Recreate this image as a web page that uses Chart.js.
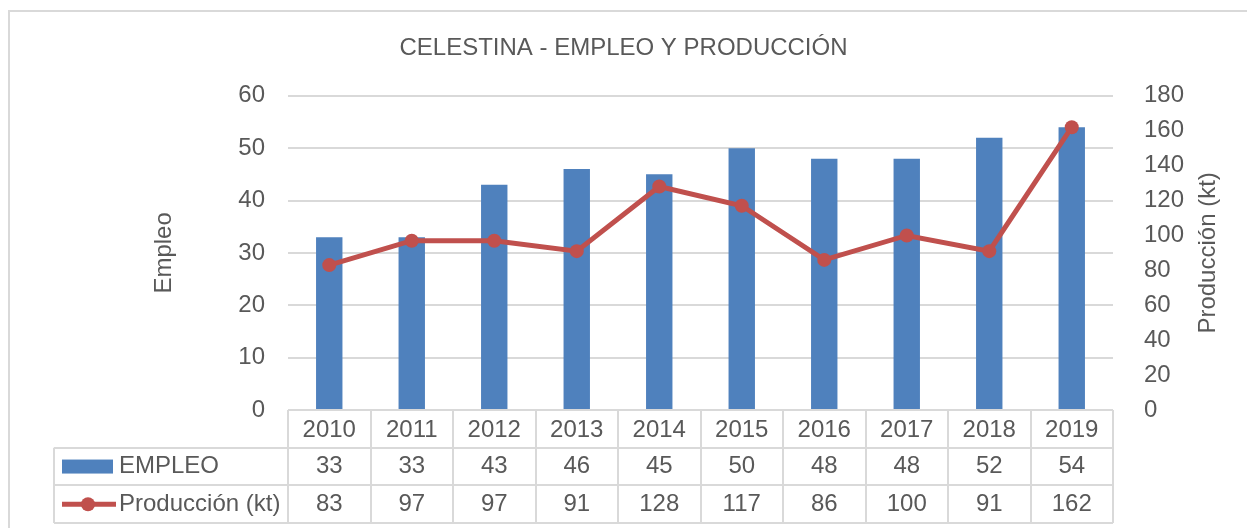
<!DOCTYPE html>
<html>
<head>
<meta charset="utf-8">
<script src="https://cdn.jsdelivr.net/npm/chart.js@4"></script>
<style>
  html, body { margin: 0; padding: 0; background: #fff; }
  canvas { display: block; }
</style>
</head>
<body>
<canvas id="chart" width="1247" height="528"></canvas>
<script>
const years = ['2010', '2011', '2012', '2013', '2014', '2015', '2016', '2017', '2018', '2019'];
const empleo = [33, 33, 43, 46, 45, 50, 48, 48, 52, 54];
const produccion = [83, 97, 97, 91, 128, 117, 86, 100, 91, 162];
const seriesNames = ['EMPLEO', 'Producción (kt)'];

const FONT = 'Liberation Sans, Arial, sans-serif';
const TEXT = '#595959';
const GRID = '#d9d9d9';
const BLUE = '#4F81BD';
const RED = '#C0504D';

Chart.defaults.font.family = FONT;
Chart.defaults.font.size = 24;
Chart.defaults.color = TEXT;

// draws the outer frame, the data table under the x axis and the right title
const tablePlugin = {
  id: 'dataTable',
  beforeDraw(chart) {
    const ctx = chart.ctx;
    ctx.save();
    ctx.strokeStyle = GRID;
    ctx.lineWidth = 2;
    ctx.strokeRect(9, 11, 1400, 700);
    ctx.restore();
  },
  afterDraw(chart) {
    const {ctx, chartArea: area, scales: {x}} = chart;
    const half = (x.getPixelForValue(1) - x.getPixelForValue(0)) / 2;
    const rowH = 37.7;
    const top = area.bottom;
    const tableLeft = 54;
    ctx.save();
    ctx.strokeStyle = GRID;
    ctx.lineWidth = 2;
    ctx.beginPath();
    // vertical lines at category edges
    for (let i = 0; i <= years.length; i++) {
      const px = Math.round(x.getPixelForValue(i) - half);
      ctx.moveTo(px, top);
      ctx.lineTo(px, top + rowH * 3);
    }
    ctx.moveTo(tableLeft, top + rowH);
    ctx.lineTo(tableLeft, top + rowH * 3);
    for (let r = 1; r <= 3; r++) {
      const py = Math.round(top + rowH * r);
      ctx.moveTo(tableLeft, py);
      ctx.lineTo(area.right, py);
    }
    ctx.moveTo(area.left, top);
    ctx.lineTo(area.right, top);
    ctx.stroke();

    // legend keys
    const r1 = top + rowH * 1.5;
    const r2 = top + rowH * 2.5;
    ctx.fillStyle = BLUE;
    ctx.fillRect(62, r1 - 7, 51, 14);
    ctx.strokeStyle = RED;
    ctx.lineWidth = 5;
    ctx.beginPath();
    ctx.moveTo(62, r2);
    ctx.lineTo(116, r2);
    ctx.stroke();
    ctx.fillStyle = RED;
    ctx.beginPath();
    ctx.arc(88, r2, 7, 0, Math.PI * 2);
    ctx.fill();

    ctx.font = '24px ' + FONT;
    ctx.fillStyle = TEXT;
    ctx.textBaseline = 'middle';
    ctx.textAlign = 'left';
    ctx.fillText(seriesNames[0], 119, r1);
    ctx.fillText(seriesNames[1], 119, r2);
    ctx.textAlign = 'center';
    years.forEach((y, i) => {
      const px = x.getPixelForValue(i);
      ctx.fillText(String(empleo[i]), px, r1);
      ctx.fillText(String(produccion[i]), px, r2);
    });

    // right axis title, reading bottom to top
    ctx.translate(1208, (area.top + area.bottom) / 2);
    ctx.rotate(-Math.PI / 2);
    ctx.fillText(seriesNames[1], 0, 0);
    ctx.restore();
  }
};

const config = {
  type: 'bar',
  data: {
    labels: years,
    datasets: [
      {
        label: seriesNames[1],
        type: 'line',
        data: produccion,
        yAxisID: 'y1',
        borderColor: RED,
        backgroundColor: RED,
        borderWidth: 5,
        pointRadius: 7,
        pointBackgroundColor: RED,
        pointBorderWidth: 0,
        tension: 0,
        order: 0
      },
      {
        label: seriesNames[0],
        data: empleo,
        yAxisID: 'y',
        backgroundColor: BLUE,
        categoryPercentage: 1,
        barPercentage: 0.32,
        order: 1
      }
    ]
  },
  options: {
    responsive: false,
    animation: false,
    devicePixelRatio: 1,
    layout: {padding: 0},
    plugins: {
      legend: {display: false},
      tooltip: {enabled: false},
      title: {
        display: true,
        text: 'CELESTINA - EMPLEO Y PRODUCCIÓN',
        color: TEXT,
        font: {size: 24, weight: 'normal'},
        padding: {top: 34, bottom: 33}
      }
    },
    scales: {
      x: {
        grid: {display: false},
        border: {display: false},
        ticks: {padding: -2, color: TEXT},
        afterFit: s => { s.height = 118; }
      },
      y: {
        position: 'left',
        min: 0,
        max: 60,
        ticks: {stepSize: 10, padding: 23, color: TEXT},
        grid: {color: GRID, lineWidth: 2, drawTicks: false},
        border: {display: false},
        title: {display: true, text: 'Empleo', color: TEXT, font: {size: 24}, padding: {top: 150, bottom: 0}},
        afterFit: s => { s.width = 288; }
      },
      y1: {
        position: 'right',
        min: 0,
        max: 180,
        ticks: {stepSize: 20, padding: 31, color: TEXT},
        grid: {display: false, drawTicks: false},
        border: {display: false},
        afterFit: s => { s.width = 134; }
      }
    }
  },
  plugins: [tablePlugin]
};

const chart = new Chart(document.getElementById('chart'), config);
</script>
</body>
</html>
